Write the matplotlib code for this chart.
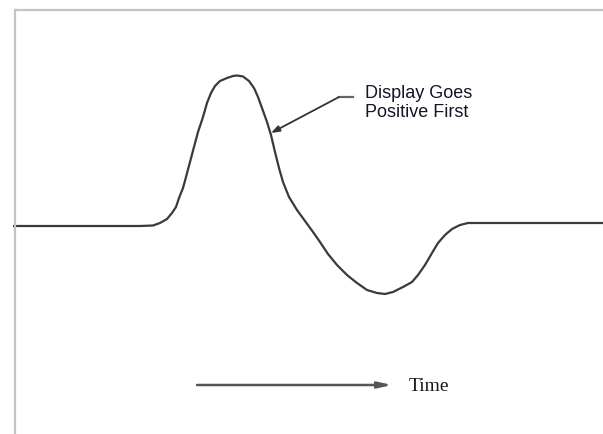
"""Esquema de forma de onda: la señal se hace positiva primero."""

import matplotlib

matplotlib.use("Agg")
import matplotlib.pyplot as plt

# Puntos (x = tiempo, y = señal; en píxeles, y hacia abajo)
tiempo = [13, 140, 153, 160, 167, 172, 176, 179, 183, 186, 190, 194, 198, 203,
          207, 211, 215, 220, 227, 233, 237, 243, 249, 254, 258, 262, 267, 271,
          275, 279, 283, 289, 297, 305, 313, 320, 328, 337, 347, 357, 367, 377,
          385, 393, 403, 412, 418, 425, 432, 438, 445, 452, 460, 468, 480, 603]
senal = [226, 226, 225.5, 223, 219, 213, 207, 198, 188, 177, 162, 147, 132, 117,
         103, 93, 86, 81, 78, 76, 75.5, 76.5, 81, 88, 97, 108, 122, 135,
         152, 168, 182, 197, 210, 221, 232, 242, 254, 265, 275, 283, 290, 293,
         294, 292, 287, 282, 275, 265, 253, 243, 235, 229, 225, 223, 223, 223]

lineas_nota = ["Display Goes", "Positive First"]
base_nota = [98, 117]
punta_nota = (271, 133)
codo_nota = (339, 97)
fin_nota = (353, 97)
x_texto = 365

flecha_tiempo = (197, 392)
y_tiempo = 385
etiqueta_tiempo = "Time"

W, H = 603, 434
fig = plt.figure(figsize=(W / 100, H / 100), dpi=100)
izq, arriba = 15, 10
ax = fig.add_axes([izq / W, 0, 1 - izq / W, (H - arriba) / H])
ax.set_xlim(izq, W)
ax.set_ylim(H, arriba)
for lado in ("right", "bottom"):
    ax.spines[lado].set_visible(False)
for lado in ("left", "top"):
    ax.spines[lado].set_color("#c4c4c4")
    ax.spines[lado].set_linewidth(1.6)
ax.set_xticks([])
ax.set_yticks([])

ax.plot(tiempo, senal, color="#3a3a3a", linewidth=1.6, clip_on=False,
        solid_capstyle="butt", solid_joinstyle="round")

# nota con flecha quebrada
ax.plot([codo_nota[0], fin_nota[0]], [codo_nota[1], fin_nota[1]],
        color="#666666", linewidth=1.6)
ax.annotate("", xy=punta_nota, xytext=codo_nota,
            arrowprops=dict(arrowstyle="-|>,head_length=0.5,head_width=0.18",
                            color="#333333", linewidth=1.3, shrinkA=0, shrinkB=0))
for linea, yb in zip(lineas_nota, base_nota):
    ax.text(x_texto, yb, linea, family="Liberation Sans", fontsize=13,
            color="#141428", va="baseline", ha="left")

# flecha de tiempo
ax.annotate("", xy=(flecha_tiempo[1], y_tiempo), xytext=(flecha_tiempo[0], y_tiempo),
            arrowprops=dict(arrowstyle="-|>,head_length=0.8,head_width=0.18",
                            color="#555555", linewidth=1.8, shrinkA=0, shrinkB=0))
ax.text(409, 391, etiqueta_tiempo, family="Liberation Serif",
        fontsize=14, color="#1a1a1a", va="baseline", ha="left")

fig.savefig("out.png", dpi=100)
